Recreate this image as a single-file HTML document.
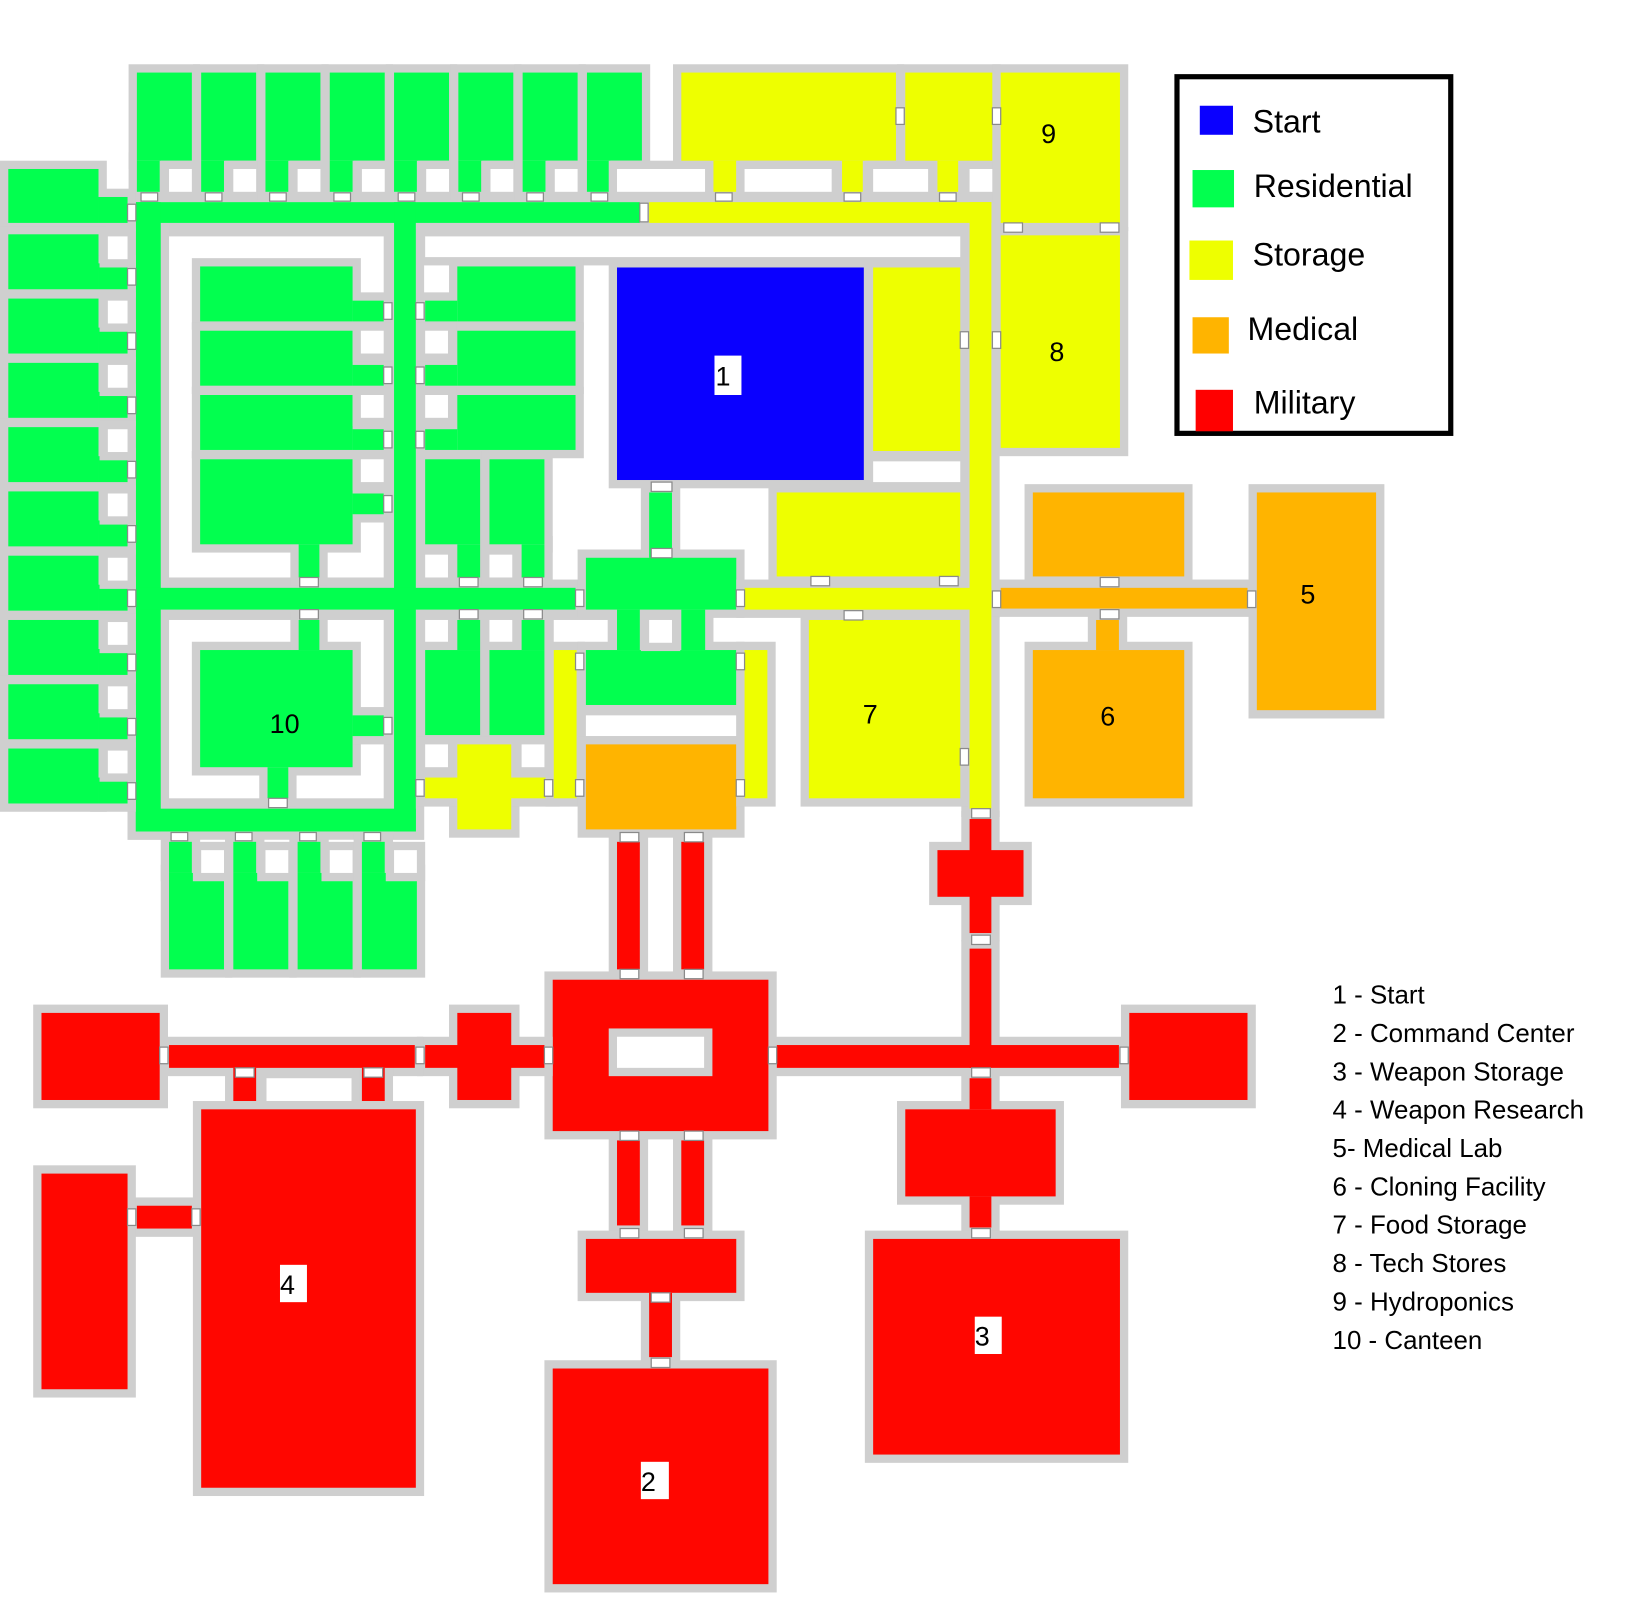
<!DOCTYPE html>
<html><head><meta charset="utf-8"><style>
html,body{margin:0;padding:0;background:#fff}
svg{display:block}
text{font-family:"Liberation Sans",sans-serif;fill:#000}
</style></head><body>
<svg id="m" width="1626" height="1608" viewBox="0 0 1568 1551" preserveAspectRatio="none" xmlns="http://www.w3.org/2000/svg">
<rect x="0" y="0" width="1568" height="1551" fill="#fff"/>
<g id="walls"></g>
<g id="doors"></g>
<g id="labels" font-size="26">
<rect x="689" y="343" width="26" height="38" fill="#fff"/><text x="690" y="372">1</text>
<text x="1004" y="138">9</text>
<text x="1012" y="348">8</text>
<text x="1254" y="582">5</text>
<text x="1061" y="700">6</text>
<text x="832" y="698">7</text>
<text x="260" y="707">10</text>
<rect x="270" y="1220" width="26" height="36" fill="#fff"/><text x="270" y="1248">4</text>
<rect x="940" y="1270" width="26" height="36" fill="#fff"/><text x="940" y="1298">3</text>
<rect x="618" y="1410" width="27" height="36" fill="#fff"/><text x="618" y="1438">2</text>
</g>
<rect x="1135" y="74" width="264" height="344" fill="#fff" stroke="#000" stroke-width="5"/>
<rect x="1157" y="102" width="32" height="28" fill="#0a00ff"/>
<rect x="1150" y="164" width="40" height="36" fill="#02ff4f"/>
<rect x="1147" y="232" width="42" height="38" fill="#eeff00"/>
<rect x="1150" y="306" width="35" height="35" fill="#ffb400"/>
<rect x="1153" y="376" width="36" height="40" fill="#ff0000"/>
<g font-size="31">
<text x="1208" y="128">Start</text>
<text x="1209" y="190">Residential</text>
<text x="1208" y="256">Storage</text>
<text x="1203" y="328">Medical</text>
<text x="1209" y="399">Military</text>
</g>
<g font-size="25">
<text x="1285" y="968">1 - Start</text>
<text x="1285" y="1005">2 - Command Center</text>
<text x="1285" y="1042">3 - Weapon Storage</text>
<text x="1285" y="1079">4 - Weapon Research</text>
<text x="1285" y="1116">5- Medical Lab</text>
<text x="1285" y="1153">6 - Cloning Facility</text>
<text x="1285" y="1190">7 - Food Storage</text>
<text x="1285" y="1227">8 - Tech Stores</text>
<text x="1285" y="1264">9 - Hydroponics</text>
<text x="1285" y="1301">10 - Canteen</text>
</g>
</svg>
<script>
(function(){
var G="#02ff4f",Y="#eeff00",B="#0a00ff",O="#ffb400",R="#ff0600",W="#ffffff";
var groups=[];
function g(c,rs){groups.push([c,rs]);}
g(W,[[163,228,207,329]]);
g(W,[[163,598,207,172]]);
g(G,[[131,195,486,20],[131,195,24,607],[380,195,21,607],[131,567,424,21],[131,780,270,22]]);
for(var i=0;i<8;i++){var x=132+62*i;g(G,[[x,70,53,85],[x,155,22,30]]);g(W,[[x+31,163,22,22]]);}
g(W,[[595,163,85,22]]);
g(G,[[8,163,87,52],[95,190,28,25]]);
for(var r=0;r<9;r++){var y=226+62*r;g(G,[[8,y,87,53],[95,y+28,28,25]]);g(W,[[104,y+2,19,22]]);}
g(G,[[193,257,147,53],[340,290,30,20]]);
for(var k=1;k<3;k++){var y=257+62*k;g(G,[[193,y,147,53],[340,y+33,30,20]]);g(W,[[348,y,22,22]]);}
g(G,[[193,443,147,82],[340,476,30,20],[288,525,20,32]]);g(W,[[348,443,22,22]]);
g(W,[[410,228,516,20]]);
for(var k=0;k<3;k++){var y=257+62*k;g(G,[[441,y,114,53],[410,y+33,31,20]]);if(k>0)g(W,[[410,y,22,22]]);}
g(G,[[410,443,53,82],[441,525,22,32]]);g(G,[[472,443,53,82],[503,525,22,32]]);
g(W,[[410,535,22,22]]);g(W,[[472,535,22,22]]);
g(G,[[193,627,147,113],[288,598,20,29],[340,690,30,20],[258,740,20,30]]);
g(W,[[410,598,22,22]]);g(W,[[472,598,22,22]]);
g(G,[[410,627,53,82],[441,598,22,29]]);g(G,[[472,627,53,82],[503,598,22,29]]);
g(W,[[410,718,22,22]]);g(W,[[503,718,22,22]]);
g(Y,[[441,718,52,82],[410,750,122,20]]);
g(W,[[534,598,52,22]]);
g(Y,[[534,627,22,143]]);
for(var i=0;i<4;i++){var x=163+62*i;g(G,[[x,812,22,30],[x,842,53,93]]);g(W,[[x+31,820,22,22]]);}
g(G,[[626,475,22,63],[565,538,145,50],[595,588,22,39],[657,588,23,39],[565,627,145,53]]);
g(W,[[626,598,22,22]]);
g(W,[[565,690,145,20]]);
g(O,[[565,718,145,82]]);
g(Y,[[718,627,22,143]]);
g(Y,[[626,195,330,20],[935,195,21,585],[718,567,238,21]]);
g(B,[[595,258,238,205]]);
g(Y,[[842,258,84,177]]);
g(W,[[842,445,84,20]]);
g(Y,[[749,475,177,81]]);
g(Y,[[780,598,146,172]]);
g(Y,[[657,70,207,85],[688,155,22,30],[812,155,20,30]]);
g(W,[[718,163,84,22]]);g(W,[[842,163,53,22]]);g(W,[[935,163,22,22]]);
g(Y,[[873,70,84,85],[904,155,20,30]]);
g(Y,[[965,70,115,145]]);
g(Y,[[965,227,115,205]]);
g(O,[[996,475,146,81]]);
g(O,[[965,567,238,20]]);
g(O,[[1212,475,115,210]]);
g(O,[[996,627,146,143],[1057,598,22,29]]);
g(R,[[935,790,21,110],[904,820,83,45]]);
g(R,[[935,915,21,115],[749,1008,330,22]]);
g(R,[[1089,977,114,84]]);
g(R,[[935,1040,21,30],[873,1070,145,84],[935,1154,21,30]]);
g(R,[[842,1195,238,208]]);
g(R,[[595,812,22,123]]);g(R,[[657,812,22,123]]);
g(R,[[533,945,208,146]]);
g(W,[[595,1000,84,30]]);
g(R,[[595,1100,22,82]]);g(R,[[657,1100,22,82]]);
g(R,[[565,1195,145,52],[626,1247,22,62]]);
g(R,[[533,1320,208,208]]);
g(R,[[441,977,52,84],[410,1008,115,22]]);
g(R,[[163,1008,237,22],[225,1030,22,32],[349,1030,22,32]]);
g(R,[[40,977,114,84]]);
g(W,[[257,1040,82,22]]);
g(R,[[194,1070,207,365]]);
g(R,[[132,1163,53,22]]);
g(R,[[40,1132,83,208]]);
var NS="http://www.w3.org/2000/svg",wg=document.getElementById("walls");
function rect(p,x,y,w,h,f,s){var e=document.createElementNS(NS,"rect");e.setAttribute("x",x);e.setAttribute("y",y);e.setAttribute("width",w);e.setAttribute("height",h);e.setAttribute("fill",f);if(s){e.setAttribute("stroke",s);e.setAttribute("stroke-width","1.2");}p.appendChild(e);}
groups.forEach(function(gr){
 gr[1].forEach(function(r){rect(wg,r[0]-8,r[1]-8,r[2]+16,r[3]+16,"#cfcfcf");});
 gr[1].forEach(function(r){rect(wg,r[0],r[1],r[2],r[3],gr[0]);});
});
var d=[];
for(var i=0;i<8;i++)d.push([132+62*i+4,186,16,8]);
d.push([690,186,16,8],[814,186,16,8],[906,186,16,8]);
d.push([123,197,8,16]);for(var r=0;r<9;r++)d.push([123,226+62*r+33,8,16]);
d.push([617,196,8,18]);
[257,319,381,443].forEach(function(y){d.push([370,y+35,8,16]);});
[257,319,381].forEach(function(y){d.push([401,y+35,8,16]);});
d.push([289,557,18,9],[443,557,18,9],[505,557,18,9],[289,588,18,9],[443,588,18,9],[505,588,18,9]);
d.push([370,692,8,16],[259,770,18,9]);
for(var i=0;i<4;i++)d.push([165+62*i,803,16,8]);
d.push([401,752,8,16],[555,569,8,16],[710,569,8,16],[628,465,20,9],[628,529,20,9]);
d.push([555,630,8,16],[710,630,8,16],[525,752,8,16],[555,752,8,16],[710,752,8,16]);
d.push([782,556,18,9],[906,556,18,9],[814,589,18,9]);
d.push([926,320,8,16],[957,320,8,16],[926,722,8,16]);
d.push([864,104,8,16],[957,104,8,16],[968,215,18,9],[1061,215,18,9]);
d.push([1061,557,18,9],[1061,588,18,9],[957,570,8,16],[1203,570,8,16]);
d.push([598,803,18,9],[660,803,18,9],[598,935,18,9],[660,935,18,9],[598,1091,18,9],[660,1091,18,9],[598,1185,18,9],[660,1185,18,9],[628,1247,18,9],[628,1310,18,9]);
d.push([937,780,18,9],[937,902,18,9],[937,1030,18,9],[937,1185,18,9]);
d.push([741,1010,8,16],[1080,1010,8,16],[525,1010,8,16],[401,1010,8,16],[154,1010,8,16]);
d.push([227,1030,18,9],[351,1030,18,9],[123,1166,8,16],[185,1166,8,16]);
var dg=document.getElementById("doors");
d.forEach(function(r){rect(dg,r[0],r[1],r[2],r[3],"#fff","#8a8a8a");});
})();
</script>
</body></html>
